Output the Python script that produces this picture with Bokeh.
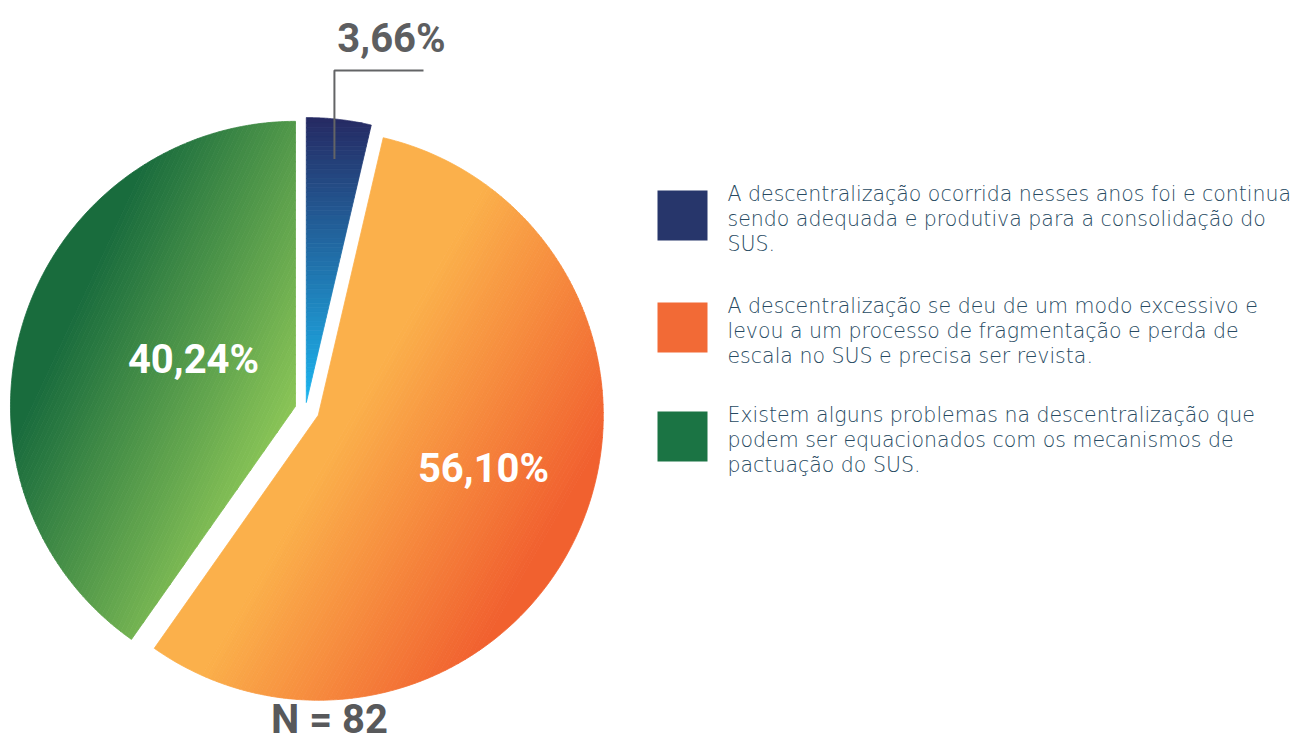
import numpy as np
from bokeh.plotting import figure
from bokeh.models import Range1d
from bokeh.core.properties import value
from bokeh.embed import file_html
from bokeh.resources import INLINE

# ---------------- data ----------------
categories = [
    "A descentralização ocorrida nesses anos foi e continua\nsendo adequada e produtiva para a consolidação do\nSUS.",
    "A descentralização se deu de um modo excessivo e\nlevou a um processo de fragmentação e perda de\nescala no SUS e precisa ser revista.",
    "Existem alguns problemas na descentralização que\npodem ser equacionados com os mecanismos de\npactuação do SUS.",
]
percentages = [3.66, 56.10, 40.24]
pct_labels = ["3,66%", "56,10%", "40,24%"]
n_label = "N = 82"
legend_colors = ["#27366b", "#f26a36", "#1b7444"]

# ---------------- style / layout ----------------
W, H = 1295, 735
cx, cy, R = 305.0, 409.0, 285.0
explode = [7.0, 14.0, 10.5]
# gradient: start point, direction (unit), length, start color, end color
gradients = [
    ((0.0, 118.0), (0.0, 1.0), 277.0, "#262a63", "#1cb2ec"),
    ((385.0, 350.0), (0.866, 0.5), 235.0, "#fbb14b", "#f1602f"),
    ((30.0, 400.0), (0.906, 0.423), 245.0, "#186b3d", "#8cc657"),
]
BASE_FIX_BIG = 14.0    # alphabetic-baseline correction for 40px text
BASE_FIX_SMALL = 7.5   # for 21px text
label_pos = [(391.0, 52.0), (483.0, 482.0), (193.0, 373.0)]
label_colors = ["#5d5e60", "white", "white"]
n_pos = (329.0, 733.0)
legend_top = [190.0, 302.0, 411.0]
sq_left, sq_size = 657.0, 50.0
text_left = 727.0
line_h = 25.0
text_color = "#274a62"

p = figure(width=W, height=H, x_range=Range1d(0, W), y_range=Range1d(H, 0),
           output_backend="svg", toolbar_location=None, min_border=0)
p.axis.visible = False
p.grid.visible = False
p.outline_line_color = None
p.background_fill_color = "white"
p.border_fill_color = "white"


def hex2rgb(h):
    h = h.lstrip("#")
    return np.array([int(h[i:i + 2], 16) for i in (0, 2, 4)], dtype=float)


def rgb2hex(c):
    c = np.clip(np.round(c), 0, 255).astype(int)
    return "#%02x%02x%02x" % tuple(c)


def clip_half(poly, u, a, sign):
    out = []
    n = len(poly)
    for i in range(n):
        P = poly[i]
        Q = poly[(i + 1) % n]
        fp = sign * (P[0] * u[0] + P[1] * u[1] - a)
        fq = sign * (Q[0] * u[0] + Q[1] * u[1] - a)
        if fp >= 0:
            out.append(P)
        if fp * fq < 0:
            t = fp / (fp - fq)
            out.append((P[0] + t * (Q[0] - P[0]), P[1] + t * (Q[1] - P[1])))
    return out


total = sum(percentages)
fr = np.array(percentages) / total
ends = np.cumsum(fr) * 2 * np.pi
starts = ends - fr * 2 * np.pi

xs_all, ys_all, cols_all = [], [], []
apexes = []
N_STRIPES = 60
for i in range(len(percentages)):
    mid = 0.5 * (starts[i] + ends[i])
    ax = cx + explode[i] * np.sin(mid)
    ay = cy - explode[i] * np.cos(mid)
    apexes.append((ax, ay))
    th = np.linspace(starts[i], ends[i], 240)
    poly = [(ax, ay)] + [(ax + R * np.sin(t), ay - R * np.cos(t)) for t in th]
    (sx, sy), u, L, c0, c1 = gradients[i]
    base = sx * u[0] + sy * u[1]
    rgb0, rgb1 = hex2rgb(c0), hex2rgb(c1)
    for k in range(N_STRIPES):
        lo = base + L * k / N_STRIPES if k > 0 else -1e6
        hi = base + L * (k + 1) / N_STRIPES if k < N_STRIPES - 1 else 1e6
        part = clip_half(poly, u, lo, 1)
        if len(part) < 3:
            continue
        part = clip_half(part, u, hi, -1)
        if len(part) < 3:
            continue
        t = (k + 0.5) / N_STRIPES
        col = rgb2hex(rgb0 + (rgb1 - rgb0) * t)
        xs_all.append([q[0] for q in part])
        ys_all.append([q[1] for q in part])
        cols_all.append(col)

p.patches(xs_all, ys_all, fill_color=cols_all, line_color=cols_all, line_width=0.8)

# leader line for the small slice
bx, by = apexes[0]
bmid = 0.5 * (starts[0] + ends[0])
lx = bx + 0.86 * R * np.sin(bmid)
ly = by - 0.86 * R * np.cos(bmid)
p.line([lx, lx, 423.0], [ly, 70.0, 70.0], line_color="#636466", line_width=2)

# percentage labels
pct_font = value("Roboto")
for i, lab in enumerate(pct_labels):
    p.text(x=[label_pos[i][0]], y=[label_pos[i][1] - BASE_FIX_BIG], text=[lab], text_font=pct_font,
           text_font_style="bold", text_font_size="40px", text_color=label_colors[i],
           text_align="center", text_baseline="alphabetic")

p.text(x=[n_pos[0]], y=[n_pos[1] - BASE_FIX_BIG], text=[n_label], text_font=pct_font,
       text_font_style="bold", text_font_size="40px", text_color="#58595b",
       text_align="center", text_baseline="alphabetic")

# legend
leg_font = value("DejaVu Sans Light, DejaVu Sans")
for i, cat in enumerate(categories):
    top = legend_top[i]
    p.quad(left=[sq_left], right=[sq_left + sq_size], top=[top], bottom=[top + sq_size],
           fill_color=legend_colors[i], line_color=None)
    for j, line in enumerate(cat.split("\n")):
        p.text(x=[text_left], y=[top + 10.5 + j * line_h - BASE_FIX_SMALL], text=[line],
               text_font=leg_font, text_font_size="20.5px", text_color=text_color,
               text_align="left", text_baseline="alphabetic")

open("out.html", "w").write(file_html(p, INLINE))
